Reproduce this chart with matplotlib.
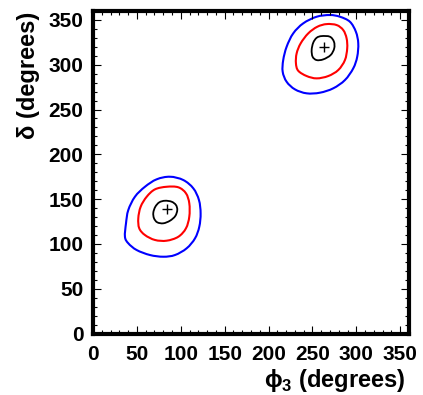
import matplotlib
matplotlib.use("Agg")
import matplotlib.pyplot as plt
from matplotlib.ticker import MultipleLocator
from matplotlib.path import Path
from matplotlib.patches import PathPatch

plt.rcParams['font.family'] = ['Liberation Sans', 'DejaVu Sans']
plt.rcParams['mathtext.fontset'] = 'custom'
plt.rcParams['mathtext.bf'] = 'Liberation Sans:bold'
plt.rcParams['mathtext.rm'] = 'Liberation Sans:bold'

# ---- data (phi3, delta) in degrees ----
best_fit_phi3 = [84, 263]
best_fit_delta = [139, 320]

low_blue_phi3 = [87.7, 102.9, 114.3, 120.7, 122.6, 121.1, 116.2, 106.7, 93.4, 80.1,
                 64.9, 49.7, 40.2, 36.4, 37.6, 40.2, 47.8, 59.2, 72.5]
low_blue_delta = [175.0, 171.3, 162.0, 149.0, 134.1, 119.2, 106.2, 95.1, 87.6, 85.7,
                  87.6, 93.2, 100.7, 108.0, 123.0, 137.8, 152.7, 163.8, 172.1]
low_red_phi3 = [83.9, 97.2, 105.9, 109.7, 109.7, 105.9, 97.2, 83.9, 70.6, 59.2,
                52.7, 51.6, 54.3, 61.2, 70.6]
low_red_delta = [163.8, 163.2, 156.5, 145.3, 130.4, 117.4, 108.0, 103.6, 104.4, 109.9,
                 117.4, 128.6, 141.5, 152.7, 160.9]
low_black_phi3 = [82.0, 89.6, 94.5, 96.0, 93.7, 87.7, 80.1, 73.2, 69.5, 68.7, 71.0, 75.5]
low_black_delta = [148.2, 147.1, 143.4, 137.8, 131.1, 125.9, 123.0, 124.1, 128.6, 134.8,
                   141.5, 146.4]

up_blue_phi3 = [269.9, 281.3, 292.7, 299.5, 302.2, 301.0, 296.5, 287.0, 273.7, 258.5,
                243.4, 230.1, 220.6, 216.1, 216.7, 220.6, 228.1, 239.5, 254.8]
up_blue_delta = [355.5, 353.6, 348.0, 336.8, 323.9, 308.9, 296.0, 282.9, 273.7, 268.8,
                 268.1, 272.5, 281.0, 292.2, 305.2, 320.1, 335.0, 346.2, 353.6]
up_red_phi3 = [266.2, 277.6, 285.1, 288.9, 289.6, 287.0, 279.4, 268.0, 254.8, 243.4,
               233.8, 231.2, 232.0, 236.6, 245.2, 255.5]
up_red_delta = [345.4, 344.3, 338.7, 329.5, 318.3, 305.2, 294.1, 287.4, 284.8, 287.4,
                293.3, 301.6, 312.7, 323.9, 335.0, 342.4]
up_black_phi3 = [260.5, 269.9, 274.5, 274.8, 270.7, 262.3, 254.8, 250.2, 249.1, 250.9, 254.8]
up_black_delta = [332.0, 331.3, 325.7, 318.3, 310.8, 306.0, 305.2, 308.9, 316.4, 324.6, 330.1]

tick_values = [0, 50, 100, 150, 200, 250, 300, 350]
x_label = 'ϕ$_{\\mathbf{3}}$ (degrees)'
y_label = 'δ (degrees)'


def smooth_closed_path(xs, ys):
    """Closed Bezier path passing through the given vertices (Catmull-Rom handles)."""
    n = len(xs)
    verts = [(xs[0], ys[0])]
    codes = [Path.MOVETO]
    for i in range(n):
        p0 = (xs[i - 1], ys[i - 1])
        p1 = (xs[i], ys[i])
        p2 = (xs[(i + 1) % n], ys[(i + 1) % n])
        p3 = (xs[(i + 2) % n], ys[(i + 2) % n])
        c1 = (p1[0] + (p2[0] - p0[0]) / 6, p1[1] + (p2[1] - p0[1]) / 6)
        c2 = (p2[0] - (p3[0] - p1[0]) / 6, p2[1] - (p3[1] - p1[1]) / 6)
        verts += [c1, c2, p2]
        codes += [Path.CURVE4] * 3
    return Path(verts, codes)


W, H = 423, 395
fig = plt.figure(figsize=(W / 100, H / 100), dpi=100)
ax = fig.add_axes([93 / W, (H - 333.5) / H, (409 - 93) / W, (333.5 - 11) / H])

contours = [
    (low_blue_phi3, low_blue_delta, '#0000ff', 1.5),
    (low_red_phi3, low_red_delta, '#ff0000', 1.5),
    (low_black_phi3, low_black_delta, '#000000', 1.3),
    (up_blue_phi3, up_blue_delta, '#0000ff', 1.5),
    (up_red_phi3, up_red_delta, '#ff0000', 1.5),
    (up_black_phi3, up_black_delta, '#000000', 1.3),
]
for xs, ys, c, lw in contours:
    ax.add_patch(PathPatch(smooth_closed_path(xs, ys), facecolor='none',
                           edgecolor=c, lw=lw))

ax.plot(best_fit_phi3, best_fit_delta, linestyle='none', marker='+',
        color='black', markersize=6.5, markeredgewidth=1.0)

ax.set_xlim(0, 360)
ax.set_ylim(0, 360)
ax.set_xticks(tick_values)
ax.set_yticks(tick_values)
ax.set_xticklabels([str(v) for v in tick_values])
ax.set_yticklabels([str(v) for v in tick_values])
ax.xaxis.set_minor_locator(MultipleLocator(10))
ax.yaxis.set_minor_locator(MultipleLocator(10))
ax.tick_params(which='both', direction='in', top=True, right=True, width=0.8,
               labelsize=15)
ax.tick_params(which='major', length=6)
ax.tick_params(which='minor', length=3)
ax.tick_params(axis='x', pad=8)
ax.tick_params(axis='y', pad=7)
for lab in ax.get_xticklabels() + ax.get_yticklabels():
    lab.set_fontweight('bold')
for sp in ax.spines.values():
    sp.set_linewidth(3)

fig.text(28 / W, 1 - 12 / H, y_label, rotation=90, ha='center', va='top',
         fontsize=17, fontweight='bold')
fig.text(406 / W, (H - 387) / H, x_label, ha='right', va='baseline',
         fontsize=17, fontweight='bold')

fig.savefig('out.png', dpi=100)
